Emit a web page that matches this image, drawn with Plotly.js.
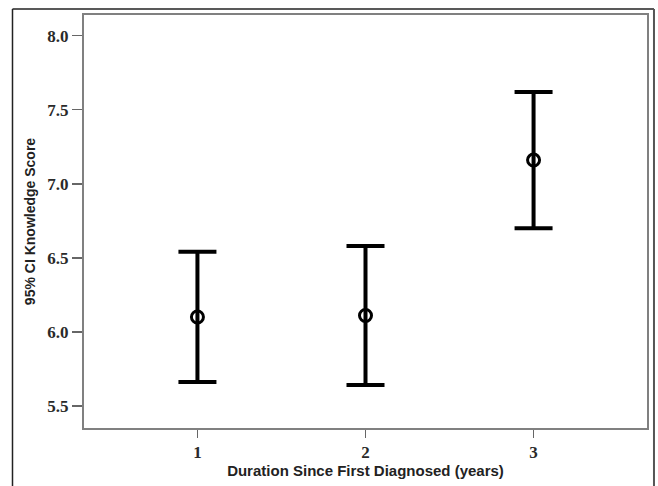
<!DOCTYPE html>
<html>
<head>
<meta charset="utf-8">
<script src="https://cdn.plot.ly/plotly-3.0.1.min.js"></script>
<style>
  html, body { margin: 0; padding: 0; background: #fff; }
  #chart { width: 658px; height: 486px; }
</style>
</head>
<body>
<div id="chart"></div>
<script>
const categories = [1, 2, 3];
const meanScore = [6.10, 6.11, 7.16];
const upperCI = [6.54, 6.58, 7.62];
const lowerCI = [5.66, 5.64, 6.70];
const yTicks = [5.5, 6.0, 6.5, 7.0, 7.5, 8.0];
const yTickLabels = ['5.5', '6.0', '6.5', '7.0', '7.5', '8.0'];

const plus = upperCI.map((u, i) => u - meanScore[i]);
const minus = lowerCI.map((l, i) => meanScore[i] - l);

const trace = {
  type: 'scatter',
  mode: 'markers',
  x: categories,
  y: meanScore,
  marker: { symbol: 'circle-open', size: 12, color: '#000', line: { width: 3, color: '#000' } },
  error_y: {
    type: 'data', symmetric: false,
    array: plus, arrayminus: minus,
    color: '#000', thickness: 4, width: 19
  },
  hoverinfo: 'skip',
  showlegend: false
};

const frameColor = '#222';
const tickFont = { family: 'Liberation Serif, Times New Roman, serif', size: 17, color: '#2a2a2a', weight: 'bold' };
const layout = {
  width: 658, height: 486,
  margin: { l: 84, r: 11, t: 15, b: 58 },
  paper_bgcolor: '#fff', plot_bgcolor: '#fff',
  showlegend: false,
  xaxis: {
    range: [0.325, 3.675],
    tickvals: categories, ticktext: categories.map(String),
    ticks: 'outside', ticklen: 8, tickwidth: 1.5, tickcolor: '#666',
    showgrid: false, zeroline: false,
    showline: true, mirror: true, linecolor: '#808080', linewidth: 2,
    tickfont: tickFont,
    title: { text: 'Duration Since First Diagnosed (years)', standoff: 3,
      font: { family: 'Liberation Sans, Arial, sans-serif', size: 15, color: '#222', weight: 'bold' } }
  },
  yaxis: {
    range: [5.35, 8.14],
    tickvals: yTicks, ticktext: yTickLabels,
    ticks: 'outside', ticklen: 10, tickwidth: 1.5, tickcolor: '#666',
    showgrid: false, zeroline: false,
    showline: true, mirror: true, linecolor: '#808080', linewidth: 2,
    tickfont: tickFont,
    title: { text: '95% CI Knowledge Score', standoff: 8,
      font: { family: 'Liberation Sans, Arial, sans-serif', size: 14, color: '#222', weight: 'bold' } }
  },
  shapes: [
    { type: 'line', xref: 'paper', yref: 'paper', x0: -0.127, x1: 1.0124, y0: 1.0145, y1: 1.0145, line: { color: frameColor, width: 1.5 } },
    { type: 'line', xref: 'paper', yref: 'paper', x0: -0.127, x1: -0.127, y0: 1.0145, y1: -0.2, line: { color: frameColor, width: 1.5 } },
    { type: 'line', xref: 'paper', yref: 'paper', x0: 1.0124, x1: 1.0124, y0: 1.0145, y1: -0.2, line: { color: '#555', width: 2 } }
  ]
};

Plotly.newPlot('chart', [trace], layout, { displayModeBar: false, staticPlot: true });
</script>
</body>
</html>
